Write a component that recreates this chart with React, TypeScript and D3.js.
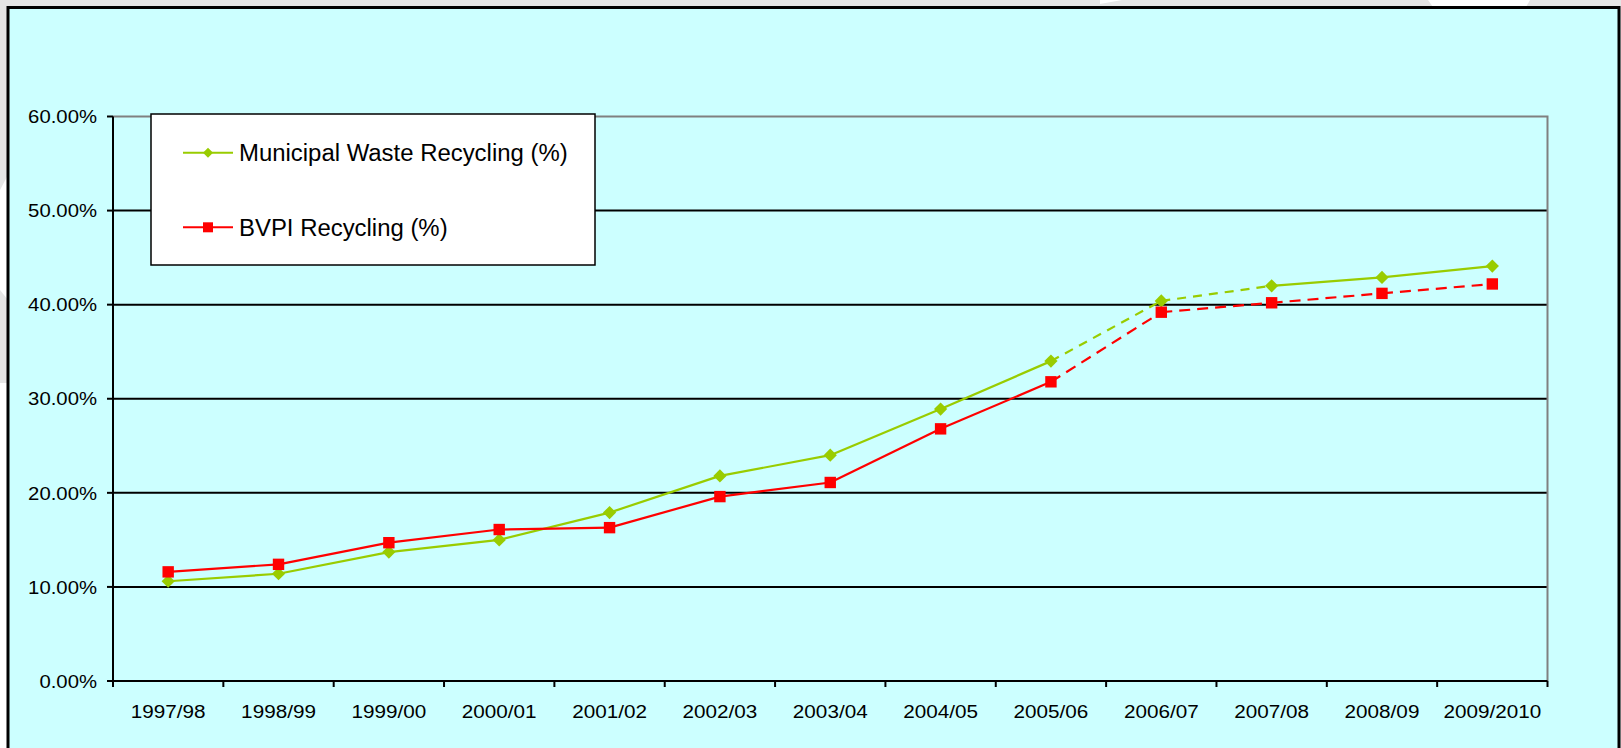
import React, { useEffect, useRef } from 'react';
import * as d3 from 'd3';

const years = ['1997/98', '1998/99', '1999/00', '2000/01', '2001/02', '2002/03', '2003/04',
  '2004/05', '2005/06', '2006/07', '2007/08', '2008/09', '2009/2010'];

// values in %
const municipal = [10.6, 11.4, 13.7, 15.0, 17.9, 21.8, 24.0, 28.9, 34.0, 40.4, 42.0, 42.9, 44.1];
const bvpi = [11.6, 12.4, 14.7, 16.1, 16.3, 19.6, 21.1, 26.8, 31.8, 39.2, 40.2, 41.2, 42.2];

// index of the segments (start point) drawn dashed
const municipalDashed = [8, 9];
const bvpiDashed = [8, 9, 10, 11];

const yTicks = [0, 10, 20, 30, 40, 50, 60];

const series = [
  { name: 'Municipal Waste Recycling (%)', values: municipal, dashed: municipalDashed, color: '#99CC00', shape: 'diamond', dash: '9,7' },
  { name: 'BVPI Recycling (%)', values: bvpi, dashed: bvpiDashed, color: '#FF0000', shape: 'square', dash: '11,7' },
];

const W = 1621;
const H = 748;

const App = () => {
  const svgRef = useRef<SVGSVGElement>(null);

  useEffect(() => {
    const svg = d3.select(svgRef.current);
    svg.selectAll('*').remove();

    const plot = { left: 113, right: 1547.5, top: 116.5, bottom: 681 };
    const font = 'Liberation Sans, Arial, sans-serif';

    const x = d3.scaleBand().domain(years).range([plot.left, plot.right]).padding(0);
    const cx = (d: string) => (x(d) as number) + x.bandwidth() / 2;
    const y = d3.scaleLinear().domain([0, 60]).range([plot.bottom, plot.top]);

    // slide background around the chart
    svg.append('rect').attr('width', W).attr('height', H).attr('fill', '#e5e5e5');
    svg.append('polygon').attr('points', '1428,0 1530,0 1526,7 1433,7').attr('fill', '#fff');
    svg.append('polygon').attr('points', '1100,0 1122,0 1100,4').attr('fill', '#fff');
    svg.append('polygon').attr('points', '0,190 8,175 8,300 0,290').attr('fill', '#fff');
    svg.append('rect').attr('x', 0).attr('y', 383).attr('width', 8).attr('height', H - 383).attr('fill', '#fff');

    // chart area
    svg.append('rect')
      .attr('x', 8).attr('y', 7.5).attr('width', 1611).attr('height', 760)
      .attr('fill', '#CCFFFF').attr('stroke', '#000').attr('stroke-width', 3);

    // gridlines
    svg.append('g').selectAll('line')
      .data(yTicks.filter(t => t > 0 && t < 60))
      .join('line')
      .attr('x1', plot.left).attr('x2', plot.right)
      .attr('y1', d => y(d)).attr('y2', d => y(d))
      .attr('stroke', '#000').attr('stroke-width', 2);

    // plot border top/right
    svg.append('path')
      .attr('d', `M${plot.left},${y(60)}H${plot.right}V${plot.bottom}`)
      .attr('fill', 'none').attr('stroke', '#808080').attr('stroke-width', 2);

    // axes
    svg.append('line')
      .attr('x1', plot.left).attr('x2', plot.left).attr('y1', y(60)).attr('y2', plot.bottom + 6)
      .attr('stroke', '#000').attr('stroke-width', 2);
    svg.append('line')
      .attr('x1', plot.left - 6).attr('x2', plot.right).attr('y1', plot.bottom).attr('y2', plot.bottom)
      .attr('stroke', '#000').attr('stroke-width', 2);

    svg.append('g').selectAll('line')
      .data(yTicks)
      .join('line')
      .attr('x1', plot.left - 6).attr('x2', plot.left)
      .attr('y1', d => y(d)).attr('y2', d => y(d))
      .attr('stroke', '#000').attr('stroke-width', 2);

    const xEdges = years.map(d => x(d) as number).concat([plot.right]);
    svg.append('g').selectAll('line')
      .data(xEdges)
      .join('line')
      .attr('x1', d => d).attr('x2', d => d)
      .attr('y1', plot.bottom).attr('y2', plot.bottom + 6)
      .attr('stroke', '#000').attr('stroke-width', 2);

    // tick labels
    svg.append('g').selectAll('text')
      .data(yTicks)
      .join('text')
      .attr('transform', d => `translate(97,${y(d) + 6.7}) scale(1.07,1)`)
      .attr('text-anchor', 'end')
      .attr('font-family', font).attr('font-size', 19).attr('fill', '#000')
      .text(d => `${d.toFixed(2)}%`);

    svg.append('g').selectAll('text')
      .data(years)
      .join('text')
      .attr('transform', d => `translate(${cx(d)},717.5) scale(1.09,1)`)
      .attr('text-anchor', 'middle')
      .attr('font-family', font).attr('font-size', 19).attr('fill', '#000')
      .text(d => d);

    const marker = (g: any, shape: string, color: string, px: number, py: number, s: number) => {
      if (shape === 'diamond') {
        g.append('path')
          .attr('d', `M${px},${py - s}L${px + s},${py}L${px},${py + s}L${px - s},${py}Z`)
          .attr('fill', color);
      } else {
        g.append('rect')
          .attr('x', px - s).attr('y', py - s).attr('width', 2 * s).attr('height', 2 * s)
          .attr('fill', color);
      }
    };

    // series
    series.forEach(s => {
      const g = svg.append('g');
      const pts = s.values.map((v, i) => [cx(years[i]), y(v)] as [number, number]);
      const segs = d3.pairs(pts).map((p, i) => ({ p, dashed: s.dashed.includes(i) }));
      g.selectAll('line')
        .data(segs)
        .join('line')
        .attr('x1', d => d.p[0][0]).attr('y1', d => d.p[0][1])
        .attr('x2', d => d.p[1][0]).attr('y2', d => d.p[1][1])
        .attr('stroke', s.color).attr('stroke-width', 2.2)
        .attr('stroke-dasharray', d => (d.dashed ? s.dash : null));
      pts.forEach(p => marker(g, s.shape, s.color, p[0], p[1], s.shape === 'diamond' ? 6.6 : 5.7));
    });

    // legend
    const lg = svg.append('g');
    lg.append('rect')
      .attr('x', 151).attr('y', 114).attr('width', 444).attr('height', 151)
      .attr('fill', '#fff').attr('stroke', '#000').attr('stroke-width', 1.5);
    const rows = [152.7, 227.3];
    series.forEach((s, i) => {
      const ry = rows[i];
      lg.append('line')
        .attr('x1', 183).attr('x2', 233).attr('y1', ry).attr('y2', ry)
        .attr('stroke', s.color).attr('stroke-width', 2);
      marker(lg, s.shape, s.color, 208, ry, s.shape === 'diamond' ? 5 : 5);
      lg.append('text')
        .attr('transform', `translate(239,${ry + 8.2}) scale(1.04,1)`)
        .attr('font-family', font).attr('font-size', 23).attr('fill', '#000')
        .text(s.name);
    });
  }, []);

  return (
    <svg ref={svgRef} width={W} height={H} style={{ position: 'absolute', left: 0, top: 0 }}></svg>
  );
};

export default App;
